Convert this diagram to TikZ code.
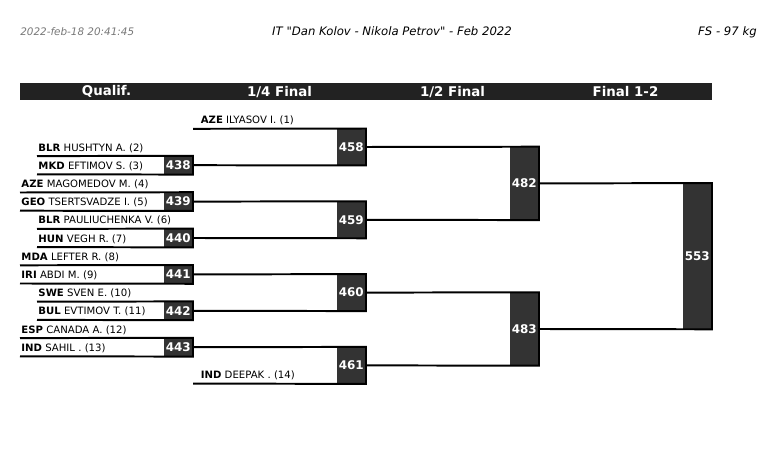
\documentclass[tikz,border=0pt]{standalone}
\usepackage{fontspec}
\setmainfont{DejaVu Sans}[Ligatures=TeXOff, ItalicFont={DejaVu Sans Oblique}, BoldFont={DejaVu Sans Bold}]
\usetikzlibrary{positioning}

\definecolor{barcol}{RGB}{34,34,34}
\definecolor{boxcol}{RGB}{51,51,51}
\definecolor{stampcol}{RGB}{120,120,120}

\tikzset{
  wire/.style={line width=1.4pt, line join=miter},
  entry/.style={anchor=base west, inner sep=0pt, xshift=0.03cm, yshift=0.125cm, font=\fontsize{7.2}{8}\selectfont},
  matchbox/.style={anchor=east, fill=boxcol, text=white, inner sep=0pt, minimum width=0.72cm, font=\fontsize{8.5}{9}\selectfont\bfseries},
  qbox/.style={matchbox, minimum height=0.455cm},
  rbox/.style={matchbox, minimum height=0.91cm},
  sbox/.style={matchbox, minimum height=1.82cm},
  fbox/.style={matchbox, minimum height=3.64cm},
  roundhead/.style={text=white, inner sep=0pt, font=\fontsize{9.5}{10}\selectfont\bfseries},
  toptext/.style={inner sep=0pt, font=\fontsize{8.3}{9}\selectfont\itshape}
}

\begin{document}
\begin{tikzpicture}[x=0.025cm, y=-0.025cm]
        \useasboundingbox (0,0) rectangle (770,457);

        % Page header
        \node[toptext, text=stampcol, anchor=base west, font=\fontsize{7.4}{8}\selectfont\itshape] (stamp) at (20,35.5) {2022-feb-18 20:41:45};
        \node[toptext, anchor=base] (title) at (392,35.5) {IT "Dan Kolov - Nikola Petrov" - Feb 2022};
        \node[toptext, anchor=base east] (weight) at (757,35.5) {FS - 97 kg};

        % Round header bar
        \fill[barcol] (20,83) rectangle (712,100.5);
        \node[roundhead] (hq) at (106.5,91.8) {Qualif.};
        \node[roundhead] (hr) at (279.5,91.8) {1/4 Final};
        \node[roundhead] (hs) at (452.5,91.8) {1/2 Final};
        \node[roundhead] (hf) at (625.5,91.8) {Final 1-2};

        % Line starts of the wrestlers
        \coordinate (c1) at (193,128.8);
        \coordinate (c2) at (37,156.1);
        \coordinate (c3) at (37,174.3);
        \coordinate (c4) at (20,192.5);
        \coordinate (c5) at (20,210.7);
        \coordinate (c6) at (37,228.9);
        \coordinate (c7) at (37,247.1);
        \coordinate (c8) at (20,265.3);
        \coordinate (c9) at (20,283.5);
        \coordinate (c10) at (37,301.7);
        \coordinate (c11) at (37,319.9);
        \coordinate (c12) at (20,338.1);
        \coordinate (c13) at (20,356.3);
        \coordinate (c14) at (193,383.6);

        % Wrestlers
        \node[entry, xshift=0.16cm] (p1) at (c1) {\textbf{AZE} ILYASOV I. (1)};
        \node[entry] (p2) at (c2) {\textbf{BLR} HUSHTYN A. (2)};
        \node[entry] (p3) at (c3) {\textbf{MKD} EFTIMOV S. (3)};
        \node[entry] (p4) at (c4) {\textbf{AZE} MAGOMEDOV M. (4)};
        \node[entry] (p5) at (c5) {\textbf{GEO} TSERTSVADZE I. (5)};
        \node[entry] (p6) at (c6) {\textbf{BLR} PAULIUCHENKA V. (6)};
        \node[entry] (p7) at (c7) {\textbf{HUN} VEGH R. (7)};
        \node[entry] (p8) at (c8) {\textbf{MDA} LEFTER R. (8)};
        \node[entry] (p9) at (c9) {\textbf{IRI} ABDI M. (9)};
        \node[entry] (p10) at (c10) {\textbf{SWE} SVEN E. (10)};
        \node[entry] (p11) at (c11) {\textbf{BUL} EVTIMOV T. (11)};
        \node[entry] (p12) at (c12) {\textbf{ESP} CANADA A. (12)};
        \node[entry] (p13) at (c13) {\textbf{IND} SAHIL . (13)};
        \node[entry, xshift=0.16cm] (p14) at (c14) {\textbf{IND} DEEPAK . (14)};

        % Qualification bouts
        \node[qbox] (m438) at (193,165.2) {438};
        \node[qbox] (m439) at (193,201.6) {439};
        \node[qbox] (m440) at (193,238) {440};
        \node[qbox] (m441) at (193,274.4) {441};
        \node[qbox] (m442) at (193,310.8) {442};
        \node[qbox] (m443) at (193,347.2) {443};
        \draw[wire] (c2) -- (m438.north east) -- (m438.south east) -- (c3);
        \draw[wire] (c4) -- (m439.north east) -- (m439.south east) -- (c5);
        \draw[wire] (c6) -- (m440.north east) -- (m440.south east) -- (c7);
        \draw[wire] (c8) -- (m441.north east) -- (m441.south east) -- (c9);
        \draw[wire] (c10) -- (m442.north east) -- (m442.south east) -- (c11);
        \draw[wire] (c12) -- (m443.north east) -- (m443.south east) -- (c13);

        % Quarter finals
        \node[rbox] (m458) at (366,147) {458};
        \node[rbox] (m459) at (366,219.8) {459};
        \node[rbox] (m460) at (366,292.6) {460};
        \node[rbox] (m461) at (366,365.4) {461};
        \draw[wire] (c1) -- (m458.north east) -- (m458.south east) -- (m438.east);
        \draw[wire] (m439.east) -- (m459.north east) -- (m459.south east) -- (m440.east);
        \draw[wire] (m441.east) -- (m460.north east) -- (m460.south east) -- (m442.east);
        \draw[wire] (m443.east) -- (m461.north east) -- (m461.south east) -- (c14);

        % Semi finals
        \node[sbox] (m482) at (539,183.4) {482};
        \node[sbox] (m483) at (539,329) {483};
        \draw[wire] (m458.east) -- (m482.north east) -- (m482.south east) -- (m459.east);
        \draw[wire] (m460.east) -- (m483.north east) -- (m483.south east) -- (m461.east);

        % Final
        \node[fbox] (m553) at (712,256.2) {553};
        \draw[wire] (m482.east) -- (m553.north east) -- (m553.south east) -- (m483.east);
    \end{tikzpicture}
\end{document}
